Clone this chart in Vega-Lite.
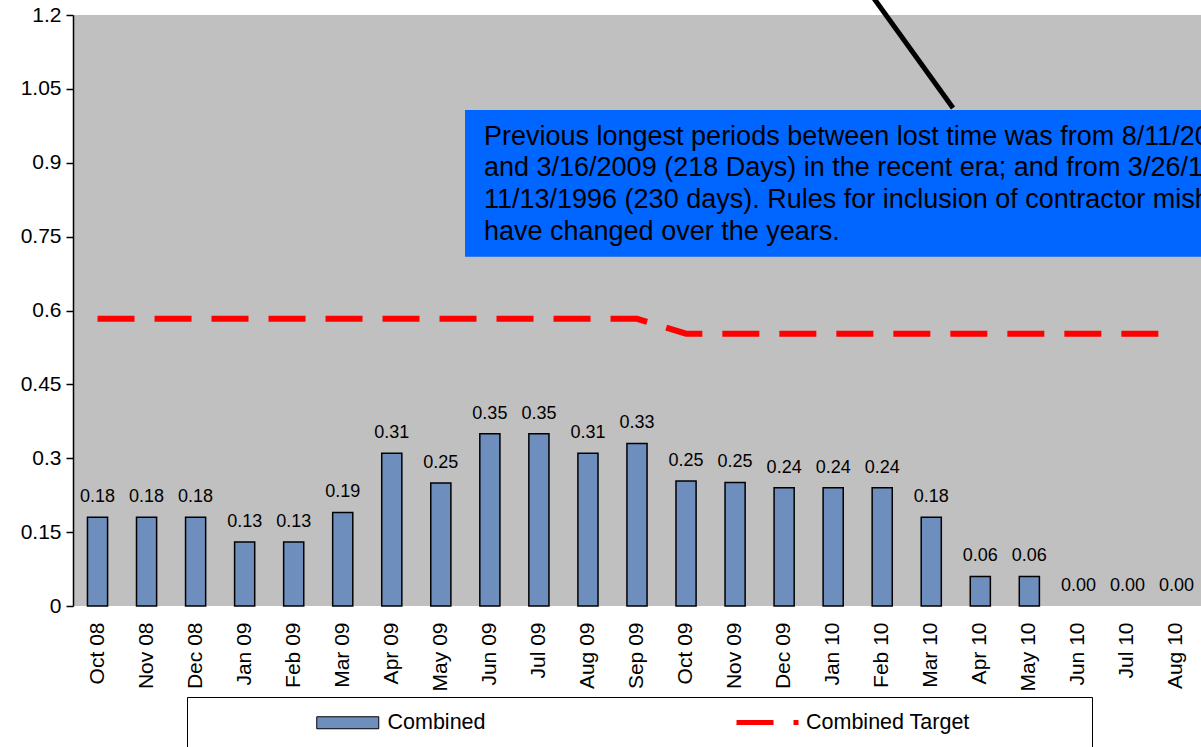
{
  "$schema": "https://vega.github.io/schema/vega-lite/v6.json",
  "width": 1128,
  "height": 591,
  "autosize": {"type": "none"},
  "padding": {"left": 73, "top": 15, "right": 0, "bottom": 141},
  "background": "white",
  "config": {
    "view": {"fill": "#C0C0C0", "stroke": null},
    "font": "Liberation Sans",
    "axis": {"labelFont": "Liberation Sans", "labelColor": "black"}
  },
  "datasets": {
    "bars": [
      {"month": "Oct 08", "value": 0.18, "series": "Combined"},
      {"month": "Nov 08", "value": 0.18, "series": "Combined"},
      {"month": "Dec 08", "value": 0.18, "series": "Combined"},
      {"month": "Jan 09", "value": 0.13, "series": "Combined"},
      {"month": "Feb 09", "value": 0.13, "series": "Combined"},
      {"month": "Mar 09", "value": 0.19, "series": "Combined"},
      {"month": "Apr 09", "value": 0.31, "series": "Combined"},
      {"month": "May 09", "value": 0.25, "series": "Combined"},
      {"month": "Jun 09", "value": 0.35, "series": "Combined"},
      {"month": "Jul 09", "value": 0.35, "series": "Combined"},
      {"month": "Aug 09", "value": 0.31, "series": "Combined"},
      {"month": "Sep 09", "value": 0.33, "series": "Combined"},
      {"month": "Oct 09", "value": 0.254, "series": "Combined"},
      {"month": "Nov 09", "value": 0.251, "series": "Combined"},
      {"month": "Dec 09", "value": 0.24, "series": "Combined"},
      {"month": "Jan 10", "value": 0.24, "series": "Combined"},
      {"month": "Feb 10", "value": 0.24, "series": "Combined"},
      {"month": "Mar 10", "value": 0.18, "series": "Combined"},
      {"month": "Apr 10", "value": 0.06, "series": "Combined"},
      {"month": "May 10", "value": 0.06, "series": "Combined"},
      {"month": "Jun 10", "value": 0, "series": "Combined"},
      {"month": "Jul 10", "value": 0, "series": "Combined"},
      {"month": "Aug 10", "value": 0, "series": "Combined"}
    ],
    "target": [
      {"month": "Oct 08", "target": 0.583, "series": "Combined Target"},
      {"month": "Nov 08", "target": 0.583, "series": "Combined Target"},
      {"month": "Dec 08", "target": 0.583, "series": "Combined Target"},
      {"month": "Jan 09", "target": 0.583, "series": "Combined Target"},
      {"month": "Feb 09", "target": 0.583, "series": "Combined Target"},
      {"month": "Mar 09", "target": 0.583, "series": "Combined Target"},
      {"month": "Apr 09", "target": 0.583, "series": "Combined Target"},
      {"month": "May 09", "target": 0.583, "series": "Combined Target"},
      {"month": "Jun 09", "target": 0.583, "series": "Combined Target"},
      {"month": "Jul 09", "target": 0.583, "series": "Combined Target"},
      {"month": "Aug 09", "target": 0.583, "series": "Combined Target"},
      {"month": "Sep 09", "target": 0.583, "series": "Combined Target"},
      {"month": "Oct 09", "target": 0.553, "series": "Combined Target"},
      {"month": "Nov 09", "target": 0.553, "series": "Combined Target"},
      {"month": "Dec 09", "target": 0.553, "series": "Combined Target"},
      {"month": "Jan 10", "target": 0.553, "series": "Combined Target"},
      {"month": "Feb 10", "target": 0.553, "series": "Combined Target"},
      {"month": "Mar 10", "target": 0.553, "series": "Combined Target"},
      {"month": "Apr 10", "target": 0.553, "series": "Combined Target"},
      {"month": "May 10", "target": 0.553, "series": "Combined Target"},
      {"month": "Jun 10", "target": 0.553, "series": "Combined Target"},
      {"month": "Jul 10", "target": 0.553, "series": "Combined Target"},
      {"month": "Aug 10", "target": 0.553, "series": "Combined Target"}
    ],
    "box": [{"x1": 7.993, "x2": 23, "y1": 1.007, "y2": 0.709}],
    "notes": [
      {"x": 8.38, "y": 0.952, "text": "Previous longest periods between lost time was from 8/11/2008"},
      {"x": 8.38, "y": 0.889, "text": "and 3/16/2009 (218 Days) in the recent era; and from 3/26/1996 and"},
      {"x": 8.38, "y": 0.824, "text": "11/13/1996  (230 days). Rules for inclusion of contractor mishaps"},
      {"x": 8.38, "y": 0.759, "text": "have changed over the years."}
    ],
    "pointer": [{"x1": 16.206, "x2": 17.944, "y1": 1.251, "y2": 1.0112}]
  },
  "layer": [
    {
      "layer": [
        {
          "data": {"name": "bars"},
          "mark": {"type": "bar", "stroke": "black", "strokeWidth": 1.5},
          "encoding": {
            "x": {
              "field": "month", "type": "nominal", "sort": null, "title": null,
              "scale": {"paddingInner": 0.59, "paddingOuter": 0.295},
              "axis": {"labelAngle": -90, "labelFontSize": 21, "labelPadding": 16, "ticks": false, "domain": false}
            },
            "y": {
              "field": "value", "type": "quantitative", "title": null,
              "scale": {"domain": [0, 1.2], "nice": false, "zero": true},
              "axis": {"values": [0, 0.15, 0.3, 0.45, 0.6, 0.75, 0.9, 1.05, 1.2], "format": ".2~f", "labelFontSize": 21, "labelPadding": 5, "tickSize": 7, "tickColor": "black", "tickWidth": 1.5, "domainColor": "black", "domainWidth": 1.5, "grid": false}
            },
            "color": {
              "field": "series", "type": "nominal",
              "scale": {"domain": ["Combined"], "range": ["#6E8FBE"]},
              "legend": {
                "orient": "none", "legendX": 114, "legendY": 682, "direction": "horizontal",
                "title": "\u00a0", "titleOrient": "left", "titlePadding": 114, "titleFontSize": 20,
                "strokeColor": "black", "fillColor": "white", "padding": 15,
                "symbolType": "M-3.1,-0.6H3.1V0.6H-3.1ZM72.7,0",
                "symbolSize": 400, "symbolOffset": 21, "labelOffset": 29,
                "symbolStrokeColor": "black", "symbolStrokeWidth": 1, "symbolOpacity": 1,
                "labelFontSize": 21.5, "labelFont": "Liberation Sans", "labelColor": "black", "labelLimit": 500,
                "zindex": 0
              }
            },
            "strokeOpacity": {"condition": {"test": "datum.value > 0", "value": 1}, "value": 0}
          }
        },
        {
          "data": {"name": "bars"},
          "mark": {"type": "text", "fontSize": 18, "color": "black", "baseline": "middle", "dy": -20},
          "encoding": {
            "x": {"field": "month", "type": "nominal", "sort": null, "title": null},
            "y": {"field": "value", "type": "quantitative", "title": null},
            "text": {"field": "value", "type": "quantitative", "format": ".2f"}
          }
        },
        {
          "data": {"name": "target"},
          "mark": {"type": "line", "strokeWidth": 6, "strokeDash": [37, 20], "strokeCap": "butt"},
          "encoding": {
            "x": {"field": "month", "type": "nominal", "sort": null, "title": null},
            "y": {"field": "target", "type": "quantitative", "title": null},
            "color": {
              "field": "series", "type": "nominal",
              "scale": {"domain": ["Combined Target"], "range": ["#FF0000"]},
              "legend": {
                "orient": "none", "legendX": 661, "legendY": 695, "direction": "horizontal",
                "title": null, "padding": 0,
                "symbolType": "M-3.1,0H3.1",
                "symbolSize": 400, "symbolOffset": 21, "labelOffset": 26,
                "symbolStrokeWidth": 5, "symbolDash": [37, 20, 6, 2000], "symbolOpacity": 1,
                "labelFontSize": 21.5, "labelFont": "Liberation Sans", "labelColor": "black", "labelLimit": 500,
                "zindex": 1
              }
            }
          }
        }
      ],
      "resolve": {"scale": {"color": "independent"}, "legend": {"color": "independent"}}
    },
    {
      "layer": [
        {
          "data": {"name": "box"},
          "mark": {"type": "rect", "color": "#0066FF"},
          "encoding": {
            "x": {"field": "x1", "type": "quantitative", "scale": {"domain": [0, 23], "nice": false, "zero": false}, "axis": null},
            "x2": {"field": "x2"},
            "y": {"field": "y1", "type": "quantitative", "title": null, "scale": {"domain": [0, 1.2], "nice": false}},
            "y2": {"field": "y2"}
          }
        },
        {
          "data": {"name": "notes"},
          "mark": {"type": "text", "align": "left", "baseline": "middle", "fontSize": 27, "color": "black", "font": "Liberation Sans", "clip": true},
          "encoding": {
            "x": {"field": "x", "type": "quantitative", "axis": null},
            "y": {"field": "y", "type": "quantitative", "title": null},
            "text": {"field": "text", "type": "nominal"}
          }
        },
        {
          "data": {"name": "pointer"},
          "mark": {"type": "rule", "color": "black", "strokeWidth": 5, "strokeCap": "butt"},
          "encoding": {
            "x": {"field": "x1", "type": "quantitative", "axis": null},
            "x2": {"field": "x2"},
            "y": {"field": "y1", "type": "quantitative", "title": null},
            "y2": {"field": "y2"}
          }
        }
      ]
    }
  ],
  "resolve": {"scale": {"x": "independent"}}
}
